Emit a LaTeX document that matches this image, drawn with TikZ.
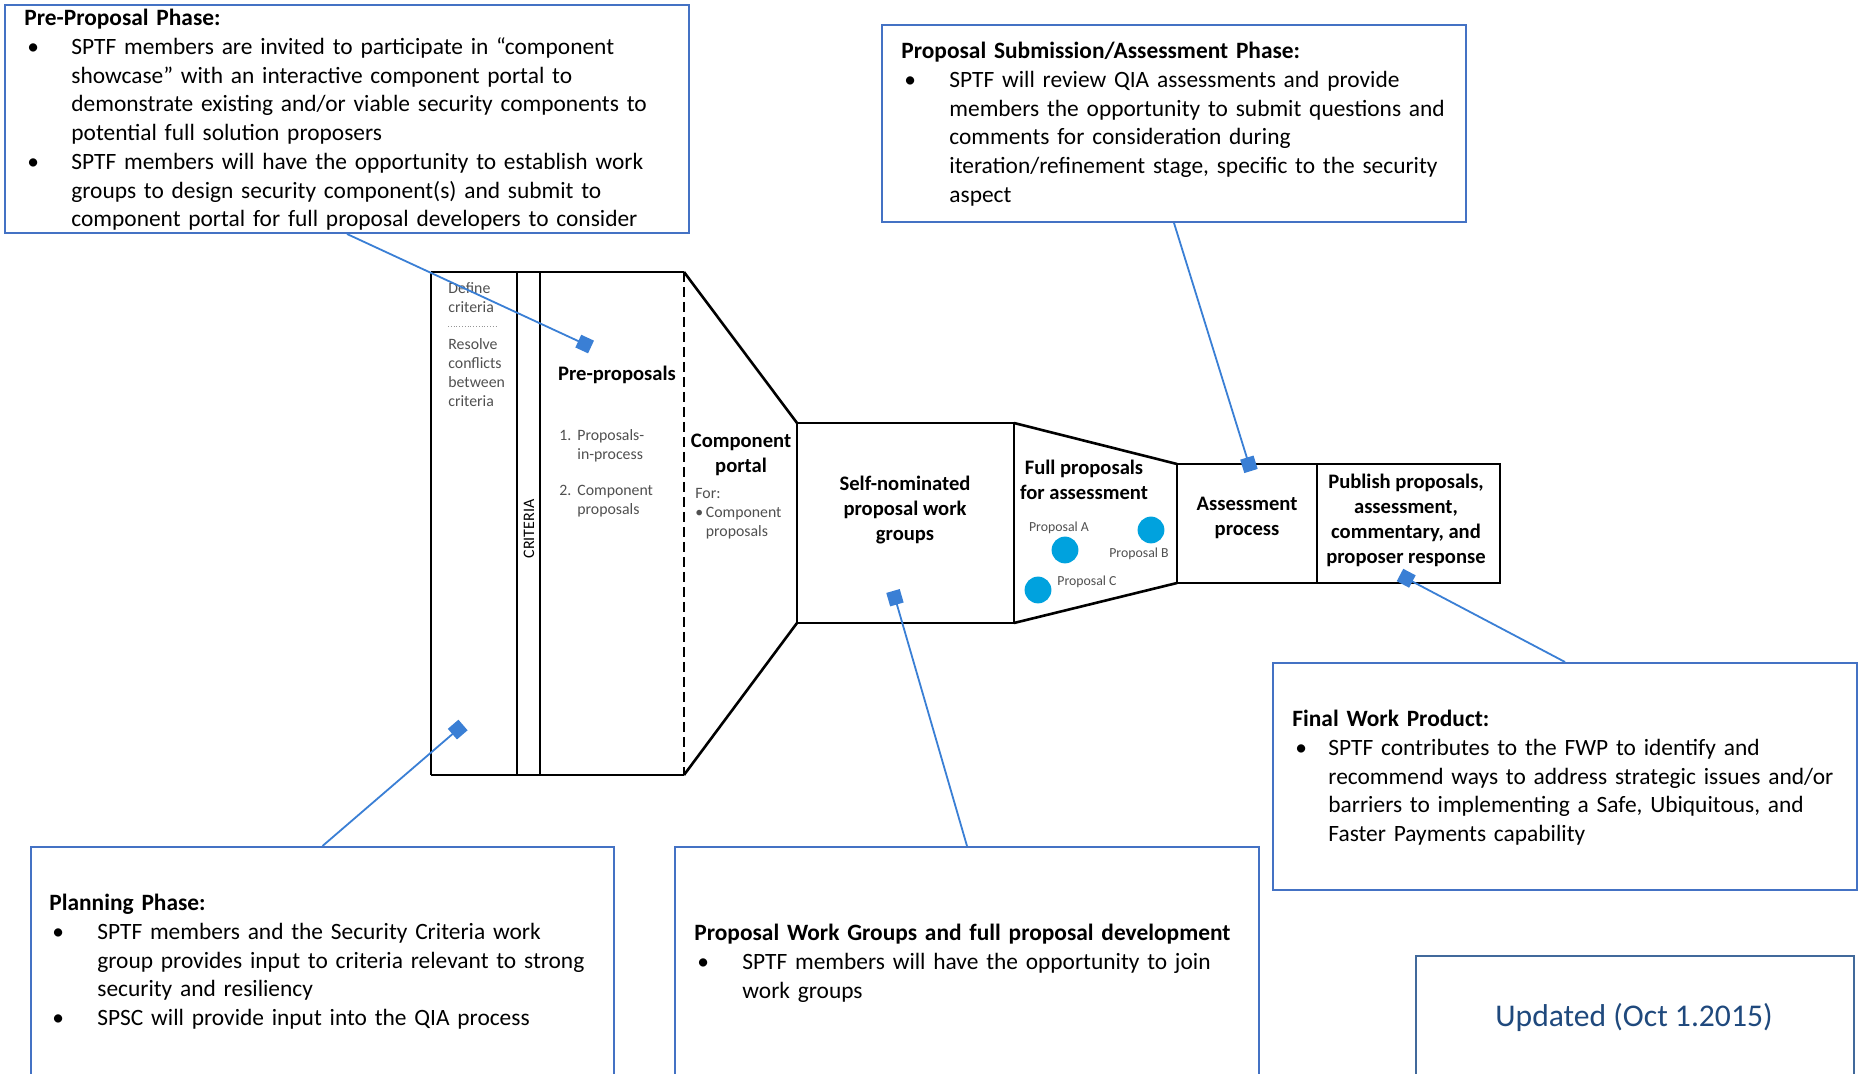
\documentclass[tikz,border=0pt]{standalone}
\usepackage{fontspec}
\setmainfont{Carlito}
\usetikzlibrary{arrows.meta}

\definecolor{boxblue}{RGB}{68,114,196}
\definecolor{linkblue}{RGB}{58,127,213}
\definecolor{dotblue}{RGB}{0,162,222}
\definecolor{dateblue}{RGB}{31,73,125}
\definecolor{dateframe}{RGB}{65,105,155}
\definecolor{notegray}{RGB}{80,80,80}

% bullet line with hanging indent
\newcommand{\bul}[1][24pt]{\par\hangindent=#1\hangafter=0\noindent\llap{\makebox[#1][l]{\hspace{1.5pt}\textbullet}}\ignorespaces}

\tikzset{
  callbox/.style={draw=boxblue, line width=1pt},
  calltext/.style={anchor=north west, inner sep=0pt, text width=340pt, align=left,
    font=\fontsize{11.7pt}{14.35pt}\selectfont},
  callout/.style={draw=linkblue, line width=0.9pt, -{Square[length=7pt]}, fill=linkblue},
  frame/.style={line width=1.3pt},
  stagelabel/.style={inner sep=0pt, align=center, font=\bfseries\fontsize{10.3pt}{12.5pt}\selectfont},
  graynote/.style={inner sep=0pt, anchor=north west, align=left, text=notegray,
    font=\fontsize{7.9pt}{9.5pt}\selectfont},
  proplabel/.style={inner sep=0pt, text=notegray, font=\fontsize{6.9pt}{8pt}\selectfont},
}

\begin{document}
\begin{tikzpicture}[x=0.5pt, y=-0.5pt]
  \path[use as bounding box] (0,0) rectangle (1864,1074);
  \clip (0,0) rectangle (1864,1074);
  \fill[white] (0,0) rectangle (1864,1074);

  % Criteria and pre-proposal block
  \foreach \x in {431,517,540}
    \draw[frame] (\x,272) -- (\x,775);
  \draw[frame] (431,272) -- (684,272) (431,775) -- (684,775);
  \draw[line width=1.2pt, dash pattern=on 5pt off 2.5pt] (684,272) -- (684,775);
  \node[graynote] (define) at (448,282) {Define\\criteria};
  \draw[notegray!60, densely dotted] (448,326) -- (498,326);
  \node[graynote] (resolve) at (448,338) {Resolve\\conflicts\\between\\criteria};
  \node[inner sep=0pt, rotate=90, font=\fontsize{8pt}{9pt}\selectfont] (criteria) at (529,529) {CRITERIA};
  \node[stagelabel] (preprop) at (617,375) {Pre-proposals};
  \node[graynote] (list1) at (559,429) {\makebox[9pt][l]{1.}Proposals-\\\makebox[9pt]{}in-process};
  \node[graynote] (list2) at (559,485) {\makebox[9pt][l]{2.}Component\\\makebox[9pt]{}proposals};

  % Funnel and component portal
  \draw[frame] (684,272) -- (797,423) (684,775) -- (797,623);
  \node[stagelabel] (portal) at (741,455) {Component\\portal};
  \node[graynote] (portalfor) at (695,488) {For:\\\textbullet\,Component\\\phantom{\textbullet\,}proposals};

  % Self-nominated work groups
  \draw[frame] (797,423) rectangle (1014,623);
  \node[stagelabel] (selfnom) at (905,510) {Self-nominated\\proposal work\\groups};

  % Full proposals
  \draw[frame] (1014,423) -- (1177,464) (1014,623) -- (1177,583);
  \node[stagelabel] (fullprop) at (1084,480) {Full proposals\\for assessment};
  \foreach \cx/\cy in {1065/550, 1151/530, 1038/590}
    \fill[dotblue] (\cx,\cy) circle [radius=6.7pt];
  \node[proplabel] (labela) at (1059,528) {Proposal A};
  \node[proplabel] (labelb) at (1139,554) {Proposal B};
  \node[proplabel] (labelc) at (1087,582) {Proposal C};

  % Assessment and publishing
  \draw[frame] (1177,464) rectangle (1317,583);
  \draw[frame] (1317,464) rectangle (1500,583);
  \node[stagelabel] (assess) at (1247,518) {Assessment\\process};
  \node[stagelabel] (publish) at (1406,520) {Publish proposals,\\assessment,\\commentary, and\\proposer response};

  % Callout boxes
  \node[callbox, anchor=north west, minimum width=342pt, minimum height=114pt] (ppbox) at (4,4) {};
  \node[callbox, anchor=north west, minimum width=292pt, minimum height=98.5pt] (subbox) at (881,24) {};
  \node[callbox, anchor=north west, minimum width=292pt, minimum height=113.5pt] (fwpbox) at (1272,662) {};
  \node[callbox, anchor=north west, minimum width=291.5pt, minimum height=130pt] (planbox) at (30,846) {};
  \node[callbox, anchor=north west, minimum width=292pt, minimum height=130pt] (wgbox) at (674,846) {};
  \node[draw=dateframe, line width=1pt, anchor=north west, minimum width=219pt, minimum height=75pt] (updbox) at (1415,955) {};

  \node[calltext] (pptext) at (24,9) {\textbf{Pre-Proposal Phase:}
    \bul[23.5pt] SPTF members are invited to participate in “component\newline
    showcase” with an interactive component portal to\newline
    demonstrate existing and/or viable security components to\newline
    potential full solution proposers
    \bul[23.5pt] SPTF members will have the opportunity to establish work\newline
    groups to design security component(s) and submit to\newline
    component portal for full proposal developers to consider\par};
  \node[calltext] (subtext) at (901,42) {\textbf{Proposal Submission/Assessment Phase:}
    \bul SPTF will review QIA assessments and provide\newline
    members the opportunity to submit questions and\newline
    comments for consideration during\newline
    iteration/refinement stage, specific to the security\newline
    aspect\par};
  \node[calltext] (fwptext) at (1292,710) {\textbf{Final Work Product:}
    \bul[18pt] SPTF contributes to the FWP to identify and\newline
    recommend ways to address strategic issues and/or\newline
    barriers to implementing a Safe, Ubiquitous, and\newline
    Faster Payments capability\par};
  \node[calltext] (plantext) at (49,894) {\textbf{Planning Phase:}
    \bul SPTF members and the Security Criteria work\newline
    group provides input to criteria relevant to strong\newline
    security and resiliency
    \bul SPSC will provide input into the QIA process\par};
  \node[calltext] (wgtext) at (694,924) {\textbf{Proposal Work Groups and full proposal development}
    \bul SPTF members will have the opportunity to join\newline
    work groups\par};
  \node[inner sep=0pt, text=dateblue, font=\fontsize{15.8pt}{19pt}\selectfont] (updtext) at (1634,1017) {Updated (Oct 1.2015)};

  % Connectors
  \coordinate (mkpre) at (591,347);
  \coordinate (mksub) at (1251,471);
  \coordinate (mkfwp) at (1400,575);
  \coordinate (mkplan) at (463,725);
  \coordinate (mkwg) at (893,591);
  \draw[callout] (ppbox.south) -- (mkpre);
  \draw[callout] (subbox.south) -- (mksub);
  \draw[callout] (fwpbox.north) -- (mkfwp);
  \draw[callout] (planbox.north) -- (mkplan);
  \draw[callout] (wgbox.north) -- (mkwg);
\end{tikzpicture}
\end{document}
